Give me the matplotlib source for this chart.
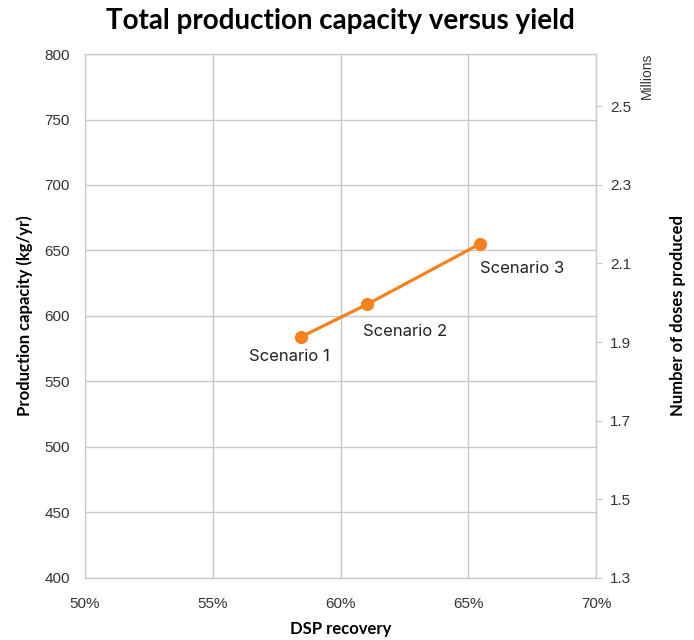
import matplotlib
matplotlib.use("Agg")
import matplotlib.pyplot as plt
from matplotlib.ticker import PercentFormatter

# data
recovery = [58.45, 61.05, 65.45]          # DSP recovery, %
capacity = [584, 609, 655]                # kg/yr
scenarios = ["Scenario 1", "Scenario 2", "Scenario 3"]
label_offsets = [(-12, -20), (38, -27), (42, -25)]   # pixels

x_ticks = [50, 55, 60, 65, 70]
left_ticks = [400, 450, 500, 550, 600, 650, 700, 750, 800]
right_ticks = [1.3, 1.5, 1.7, 1.9, 2.1, 2.3, 2.5]

orange = "#F5821F"
grid_c = "#C8C8C8"
plt.rcParams["font.family"] = ["Liberation Sans", "DejaVu Sans"]

fig = plt.figure(figsize=(6.94, 6.4), dpi=100)
ax = fig.add_axes([0.1225, 0.097, 0.7365, 0.8186])

ax.plot(recovery, capacity, color=orange, lw=2.3, marker="o", ms=8.5, zorder=3)
for x, y, s, off in zip(recovery, capacity, scenarios, label_offsets):
    ax.annotate(s, (x, y), xytext=off, textcoords="offset pixels",
                ha="center", va="center", fontsize=12, color="#222222",
                family=["Inter", "DejaVu Sans"])

ax.set_xlim(50, 70)
ax.set_ylim(400, 800)
ax.set_xticks(x_ticks)
ax.set_yticks(left_ticks)
ax.xaxis.set_major_formatter(PercentFormatter(decimals=0))
ax.grid(True, color=grid_c, lw=1)
ax.set_axisbelow(True)
for sp in ax.spines.values():
    sp.set_color(grid_c)
ax.tick_params(axis="both", length=0, labelsize=11, colors="#333333")
ax.tick_params(axis="x", pad=14)
ax.tick_params(axis="y", pad=11)

ax.set_xlabel("DSP recovery", fontsize=12, fontweight="bold", labelpad=7,
              family=["Lato", "DejaVu Sans"])
ax.set_ylabel("Production capacity (kg/yr)", fontsize=12, fontweight="bold",
              labelpad=8, family=["Lato", "DejaVu Sans"])

# right axis: number of doses (millions)
ax2 = ax.twinx()
ax2.set_ylim(1.3, 2.633)
ax2.set_yticks(right_ticks)
ax2.set_yticklabels([f"{v:.1f}" for v in right_ticks])
ax2.tick_params(axis="y", length=4, color=grid_c, labelsize=11,
                labelcolor="#333333", pad=6)
for sp in ax2.spines.values():
    sp.set_color(grid_c)
ax2.set_ylabel("Number of doses produced", fontsize=12, fontweight="bold",
               labelpad=28, family=["Lato", "DejaVu Sans"])
fig.text(0.932, 0.917, "Millions", rotation=90, ha="center", va="top",
         fontsize=10, color="#333333")

fig.suptitle("Total production capacity versus yield", x=0.49, y=0.988,
             fontsize=20, fontweight="bold", family=["Lato", "DejaVu Sans"])

fig.savefig("out.png", dpi=100)
